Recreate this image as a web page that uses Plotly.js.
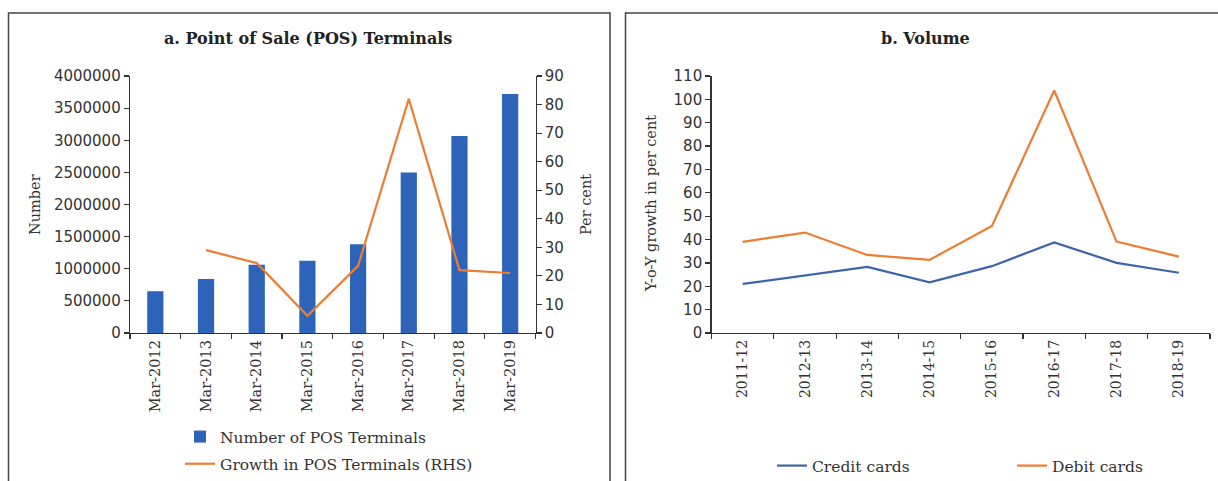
<!DOCTYPE html>
<html>
<head>
<meta charset="utf-8">
<script src="https://cdn.plot.ly/plotly-3.0.1.min.js"></script>
<style>
  html, body { margin: 0; padding: 0; background: #fff; overflow: hidden; }
  #chart { width: 1218px; height: 481px; }
</style>
</head>
<body>
<div id="chart"></div>
<script>
// Panel a: POS terminals (count, LHS) and their annual growth (per cent, RHS)
const posMonths = ['Mar-2012', 'Mar-2013', 'Mar-2014', 'Mar-2015', 'Mar-2016', 'Mar-2017', 'Mar-2018', 'Mar-2019'];
const posTerminals = [650000, 840000, 1062000, 1125000, 1380000, 2500000, 3065000, 3720000];
const posGrowth = [null, 29.0, 24.5, 6.0, 23.5, 82.0, 22.0, 21.0];

// Panel b: year-on-year growth in card transaction volume (per cent)
const fiscalYears = ['2011-12', '2012-13', '2013-14', '2014-15', '2015-16', '2016-17', '2017-18', '2018-19'];
const creditGrowth = [21.0, 24.5, 28.3, 21.7, 28.6, 38.8, 30.0, 25.8];
const debitGrowth = [39.0, 43.0, 33.4, 31.3, 45.8, 103.8, 39.1, 32.7];

const W = 1218, H = 481;
const px = v => v / W;          // horizontal pixel -> paper fraction
const py = v => 1 - v / H;      // vertical pixel (from top) -> paper fraction

const SERIF = 'DejaVu Serif, Liberation Serif, serif';
const SANS = 'DejaVu Sans, Liberation Sans, sans-serif';
const INK = '#333333';
const BLUE = '#2D63B8';
const ORANGE = '#ED7D31';
const LINEBLUE = '#3E64AA';

const yDomain = [py(333), py(76)];

const axisCommon = {
  showline: true, linecolor: INK, linewidth: 1.3,
  ticks: 'outside', ticklen: 5, tickwidth: 1.2, tickcolor: INK,
  showgrid: false, zeroline: false, fixedrange: true
};

const traces = [
  {
    type: 'bar', x: posMonths, y: posTerminals, name: 'Number of POS Terminals',
    marker: { color: BLUE }, width: 0.32, xaxis: 'x', yaxis: 'y',
    legend: 'legend', legendgroup: 'a1'
  },
  {
    type: 'scatter', mode: 'lines', x: posMonths, y: posGrowth,
    name: 'Growth in POS Terminals (RHS)',
    line: { color: ORANGE, width: 2.2 }, xaxis: 'x', yaxis: 'y2',
    legend: 'legend', legendgroup: 'a2', connectgaps: false
  },
  {
    type: 'scatter', mode: 'lines', x: fiscalYears, y: creditGrowth, name: 'Credit cards',
    line: { color: LINEBLUE, width: 2.2 }, xaxis: 'x2', yaxis: 'y3', legend: 'legend2'
  },
  {
    type: 'scatter', mode: 'lines', x: fiscalYears, y: debitGrowth, name: 'Debit cards',
    line: { color: ORANGE, width: 2.2 }, xaxis: 'x2', yaxis: 'y3', legend: 'legend2'
  }
];

const layout = {
  width: W, height: H,
  // fixed margins: legends must not push the plot areas around
  margin: { l: 0, r: 0, t: 0, b: 0, pad: 0, autoexpand: false },
  paper_bgcolor: '#ffffff', plot_bgcolor: 'rgba(0,0,0,0)',
  font: { family: SERIF, color: INK },
  showlegend: true,

  xaxis: Object.assign({}, axisCommon, {
    domain: [px(130), px(535.5)], anchor: 'y', type: 'category',
    range: [-0.5, 7.5], tickson: 'boundaries', tickangle: -90,
    tickfont: { family: SERIF, size: 14.5, color: INK }
  }),
  yaxis: Object.assign({}, axisCommon, {
    domain: yDomain, anchor: 'x', range: [0, 4000000], dtick: 500000,
    tickformat: 'd', tickfont: { family: SANS, size: 15, color: INK }
  }),
  yaxis2: Object.assign({}, axisCommon, {
    overlaying: 'y', side: 'right', anchor: 'x', range: [0, 90], dtick: 10,
    tickfont: { family: SANS, size: 15, color: INK }
  }),
  xaxis2: Object.assign({}, axisCommon, {
    domain: [px(711.5), px(1210)], anchor: 'y3', type: 'category',
    range: [-0.5, 7.5], tickson: 'boundaries', tickangle: -90,
    tickfont: { family: SERIF, size: 14, color: INK }
  }),
  yaxis3: Object.assign({}, axisCommon, {
    domain: yDomain, anchor: 'x2', range: [0, 110], dtick: 10,
    tickfont: { family: SANS, size: 15, color: INK }
  }),

  legend: {
    orientation: 'v', x: px(180), xanchor: 'left', y: py(420), yanchor: 'top',
    traceorder: 'grouped', tracegroupgap: 4,
    font: { family: SERIF, size: 15.5, color: INK }, bgcolor: 'rgba(0,0,0,0)'
  },
  legend2: {
    orientation: 'h', x: px(772), xanchor: 'left', y: py(466), yanchor: 'middle',
    entrywidth: 195, entrywidthmode: 'pixels',
    font: { family: SERIF, size: 15.5, color: INK }, bgcolor: 'rgba(0,0,0,0)'
  },

  annotations: [
    { text: 'a. Point of Sale (POS) Terminals', xref: 'paper', yref: 'paper',
      x: px(308), y: py(38.5), showarrow: false, xanchor: 'center', yanchor: 'middle',
      font: { family: SERIF, size: 16, weight: 'bold', color: '#222' } },
    { text: 'b. Volume', xref: 'paper', yref: 'paper',
      x: px(925), y: py(38.5), showarrow: false, xanchor: 'center', yanchor: 'middle',
      font: { family: SERIF, size: 16, weight: 'bold', color: '#222' } },
    { text: 'Number', xref: 'paper', yref: 'paper', textangle: -90,
      x: px(35), y: py(205), showarrow: false, xanchor: 'center', yanchor: 'middle',
      font: { family: SERIF, size: 14.5, color: INK } },
    { text: 'Per cent', xref: 'paper', yref: 'paper', textangle: -90,
      x: px(586), y: py(205), showarrow: false, xanchor: 'center', yanchor: 'middle',
      font: { family: SERIF, size: 14.5, color: INK } },
    { text: 'Y-o-Y growth in per cent', xref: 'paper', yref: 'paper', textangle: -90,
      x: px(651), y: py(204), showarrow: false, xanchor: 'center', yanchor: 'middle',
      font: { family: SERIF, size: 14.5, color: INK } }
  ],

  shapes: [
    { type: 'rect', xref: 'paper', yref: 'paper', layer: 'below',
      x0: px(8.5), x1: px(610), y0: -0.05, y1: py(13),
      line: { color: '#444', width: 1.5 }, fillcolor: 'rgba(0,0,0,0)' },
    { type: 'rect', xref: 'paper', yref: 'paper', layer: 'below',
      x0: px(625.5), x1: 1.05, y0: -0.05, y1: py(13),
      line: { color: '#444', width: 1.5 }, fillcolor: 'rgba(0,0,0,0)' }
  ]
};

Plotly.newPlot('chart', traces, layout, { staticPlot: true, displayModeBar: false });
</script>
</body>
</html>
